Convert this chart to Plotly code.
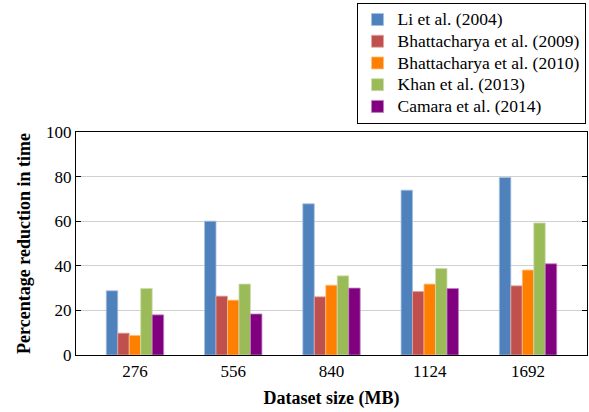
import plotly.graph_objects as go

categories = ["276", "556", "840", "1124", "1692"]
series_names = ["Li et al. (2004)", "Bhattacharya et al. (2009)", "Bhattacharya et al. (2010)",
                "Khan et al. (2013)", "Camara et al. (2014)"]
li_2004 = [28.8, 60.0, 67.8, 73.9, 79.6]
bhatt_2009 = [9.8, 26.4, 26.1, 28.5, 31.0]
bhatt_2010 = [8.8, 24.6, 31.3, 31.8, 38.1]
khan_2013 = [29.8, 31.8, 35.5, 38.8, 59.2]
camara_2014 = [18.0, 18.4, 30.0, 29.8, 40.9]
colors = ["#4F81BD", "#C0504D", "#FF7F00", "#9BBB59", "#800080"]
edge_colors = ["#A7C0DE", "#E0A8A6", "#FFBF80", "#CDDDAC", "#C080C0"]

values = [li_2004, bhatt_2009, bhatt_2010, khan_2013, camara_2014]

font_family = "Liberation Serif"

fig = go.Figure()
for name, vals, c, ec in zip(series_names, values, colors, edge_colors):
    fig.add_trace(go.Bar(
        x=list(range(len(categories))), y=vals,
        name="<span style='font-size:17.5px'>%s</span>" % name,
        marker=dict(color=c, line=dict(color=ec, width=0.8)),
    ))

fig.update_layout(
    width=589, height=412,
    margin=dict(l=76, r=2, t=132, b=57, autoexpand=False),
    barmode="group", bargap=0.416, bargroupgap=0,
    plot_bgcolor="white", paper_bgcolor="white",
    font=dict(family=font_family, size=16, color="black"),
    showlegend=True,
    legend=dict(
        x=0.549, y=1.58, xanchor="left", yanchor="top",
        bordercolor="black", borderwidth=1,
        font=dict(family=font_family, size=14.4, color="black"),
        tracegroupgap=0, itemwidth=30,
    ),
    xaxis=dict(
        tickmode="array", tickvals=list(range(len(categories))), ticktext=categories,
        range=[-0.6, 4.6], showline=True, linecolor="black", linewidth=1.2,
        mirror=True, ticks="", showgrid=False, zeroline=False,
        title=dict(text="<b>Dataset size (MB)</b>", font=dict(family=font_family, size=18), standoff=11),
        tickfont=dict(family=font_family, size=17),
    ),
    yaxis=dict(
        range=[0, 100], tickvals=[0, 20, 40, 60, 80, 100],
        showline=True, linecolor="black", linewidth=1.2, mirror="ticks",
        ticks="inside", ticklen=5, tickcolor="black",
        showgrid=True, gridcolor="#D0D0D0", gridwidth=1, zeroline=False,
        title=dict(text="<b>Percentage reduction in time</b>", font=dict(family=font_family, size=18), standoff=10),
        tickfont=dict(family=font_family, size=17),
    ),
)

fig.write_html("out.html", config={"displayModeBar": False})

# remove the default browser body margin so the figure sits at the page origin
with open("out.html", "r", encoding="utf-8") as f:
    html = f.read()
html = html.replace("<body>", "<body style=\"margin:0;padding:0;overflow:hidden\">", 1)
with open("out.html", "w", encoding="utf-8") as f:
    f.write(html)
